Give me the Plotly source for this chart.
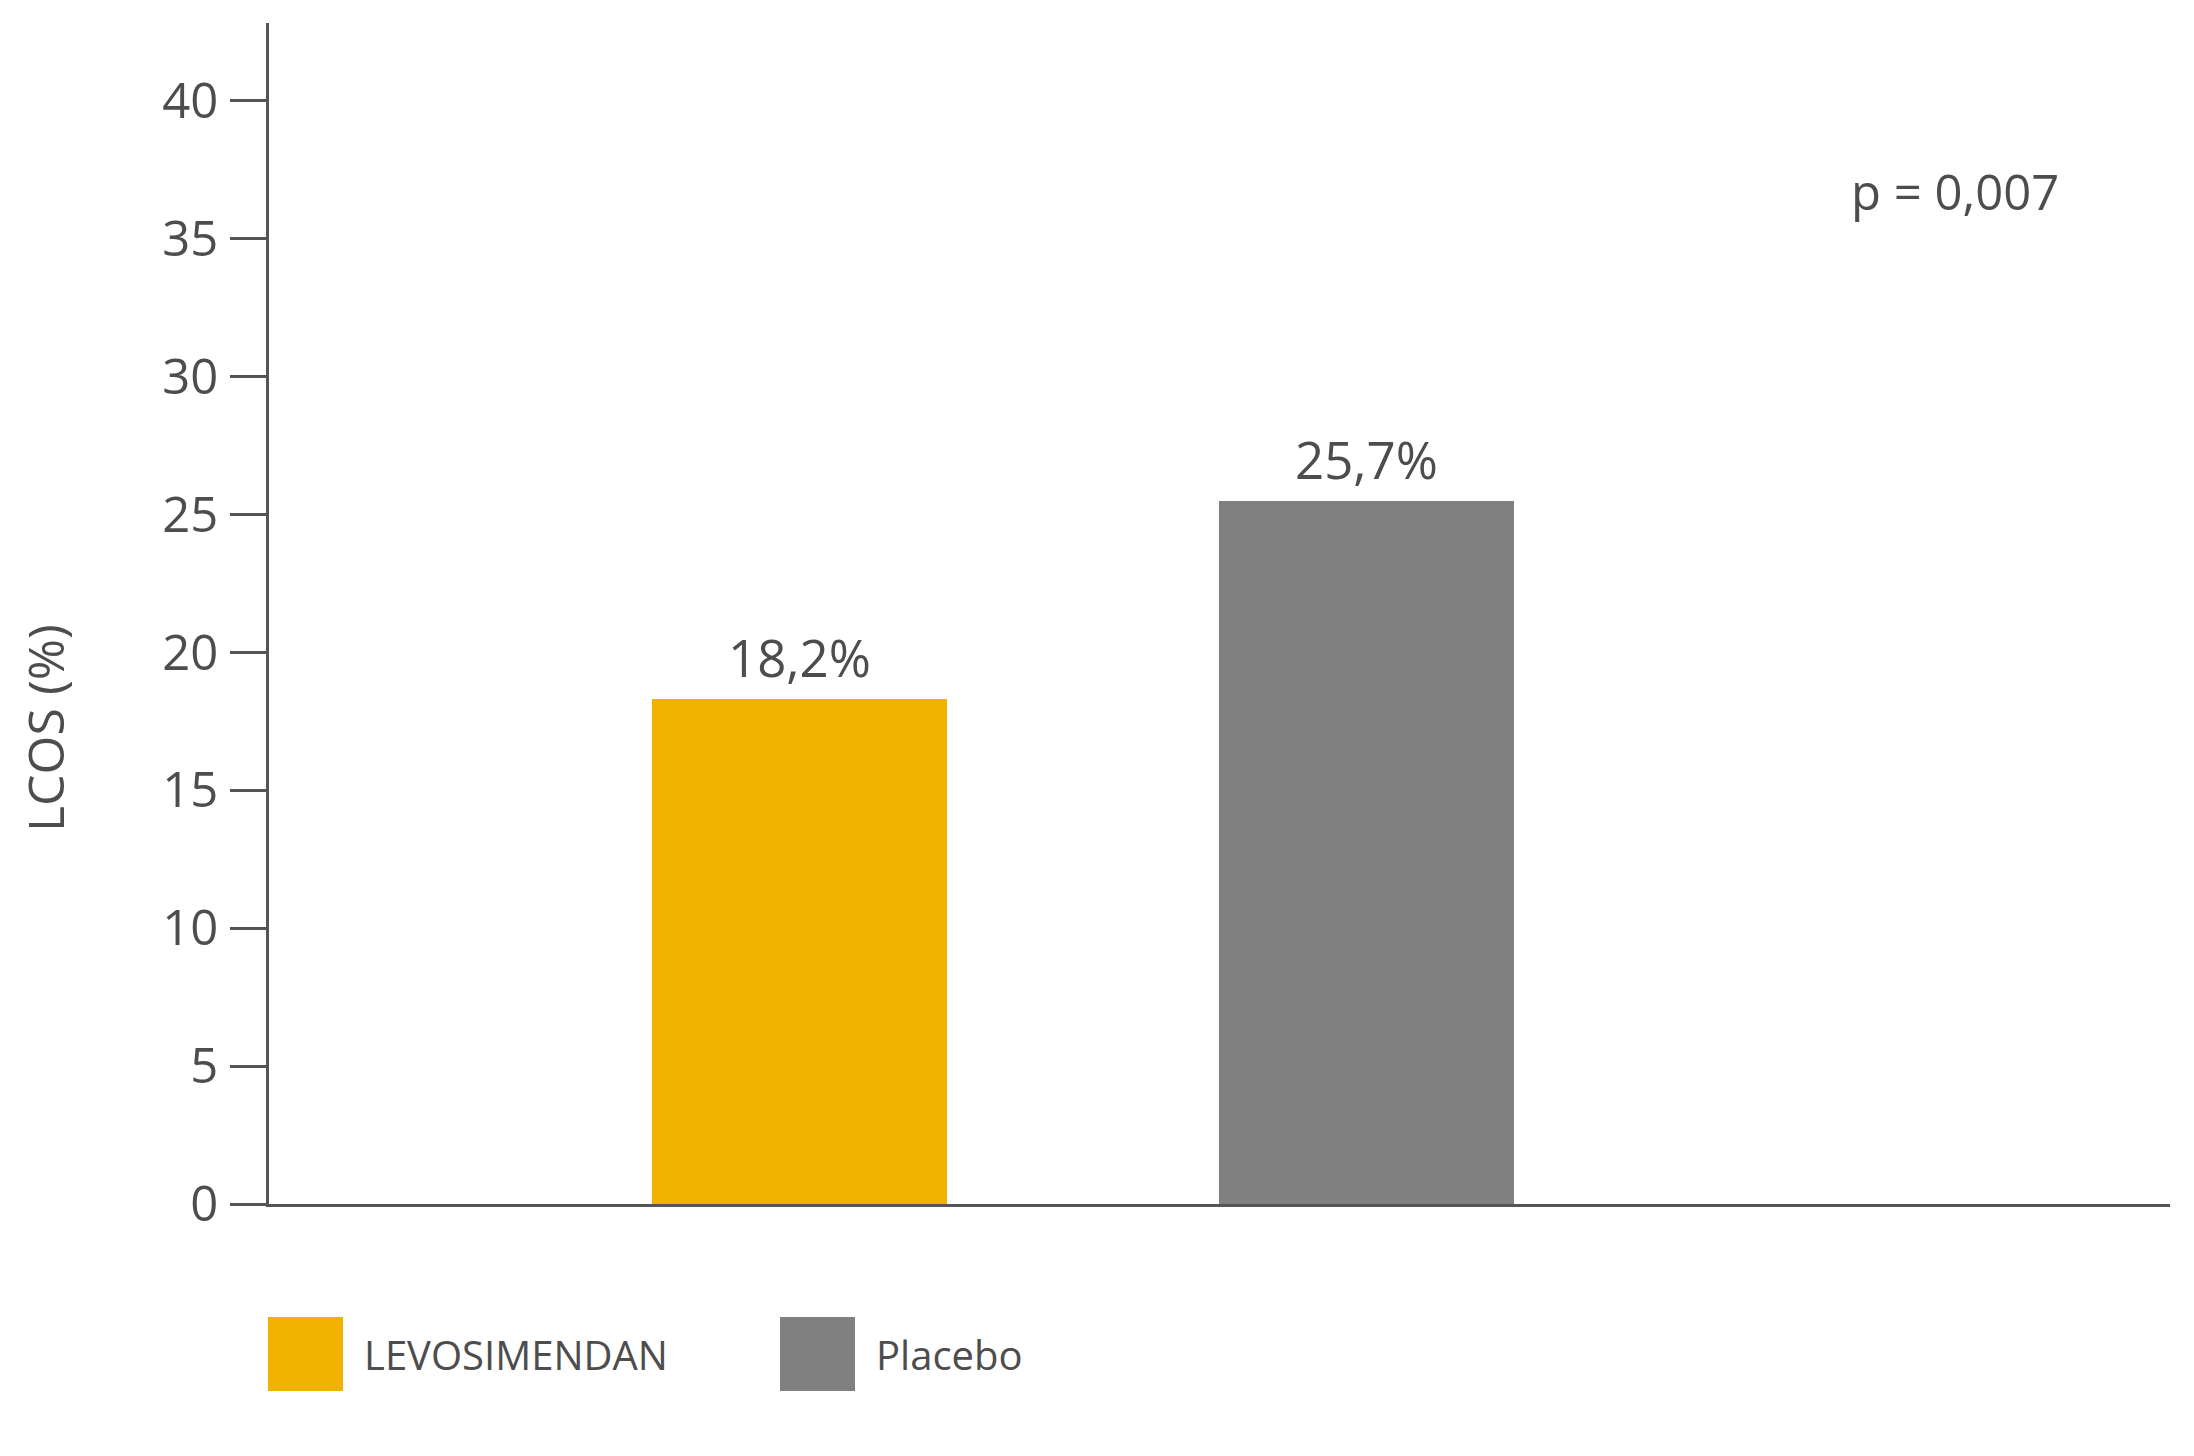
import plotly.graph_objects as go

# Data
categories = ["LEVOSIMENDAN", "Placebo"]
lcos_values = [18.3, 25.5]
value_labels = ["18,2%", "25,7%"]
bar_colors = ["#F0B100", "#808080"]
y_ticks = [0, 5, 10, 15, 20, 25, 30, 35, 40]
p_text = "p = 0,007"
y_title = "LCOS (%)"

OFF = 8  # default page body margin
W, H = 2194 - OFF, 1456 - OFF
plot_left, plot_right, plot_top, plot_bottom = 269, 2170, 23, 1204
L = plot_left - OFF
T = plot_top - OFF
plot_w = plot_right - plot_left
plot_h = plot_bottom - plot_top
R = W - L - plot_w
B = H - T - plot_h

def px_x(px):
    return (px - plot_left) / plot_w

def px_y(py):
    return (plot_bottom - py) / plot_h

FONT = "Open Sans"
TXT = "#4d4d4d"
AX = "#555555"

fig = go.Figure()
fig.add_trace(go.Bar(
    x=categories, y=lcos_values,
    marker=dict(color=bar_colors, line=dict(width=0)),
    width=0.52, showlegend=False, hoverinfo="skip",
))

annotations = []
for c, v, t in zip(categories, lcos_values, value_labels):
    annotations.append(dict(
        x=c, y=v, xref="x", yref="y", text=t, showarrow=False,
        yanchor="bottom", yshift=5,
        font=dict(family=FONT, size=51, color=TXT),
    ))

annotations.append(dict(
    x=px_x(1955), y=px_y(191), xref="paper", yref="paper", text=p_text,
    showarrow=False, xanchor="center", yanchor="middle",
    font=dict(family=FONT, size=49, color=TXT),
))
annotations.append(dict(
    x=px_x(45), y=px_y(728), xref="paper", yref="paper", text=y_title,
    showarrow=False, xanchor="center", yanchor="middle", textangle=-90,
    font=dict(family=FONT, size=50, color=TXT),
))

# Manual legend
shapes = []
legend_sq_x = [268, 780]
legend_txt_x = [362, 874]
for name, col, sx, tx in zip(categories, bar_colors, legend_sq_x, legend_txt_x):
    shapes.append(dict(
        type="rect", xref="paper", yref="paper",
        x0=px_x(sx), x1=px_x(sx + 75), y0=px_y(1391), y1=px_y(1317),
        fillcolor=col, line=dict(width=0),
    ))
    annotations.append(dict(
        x=px_x(tx), y=px_y(1354), xref="paper", yref="paper", text=name,
        showarrow=False, xanchor="left", yanchor="middle",
        font=dict(family=FONT, size=40, color=TXT),
    ))

fig.update_layout(
    width=W, height=H,
    margin=dict(l=L, r=R, t=T, b=B, pad=0),
    paper_bgcolor="white", plot_bgcolor="white",
    annotations=annotations, shapes=shapes,
    xaxis=dict(
        range=[-0.936, 2.418], showticklabels=False, ticks="",
        showline=True, linecolor=AX, linewidth=3, showgrid=False, zeroline=False,
    ),
    yaxis=dict(
        range=[0, 42.82], tickvals=y_ticks, ticktext=[str(v) for v in y_ticks],
        ticks="outside", ticklen=36, tickwidth=3, tickcolor=AX,
        showline=True, linecolor=AX, linewidth=3, showgrid=False, zeroline=False,
        tickfont=dict(family=FONT, size=49, color=TXT),
        ticklabelstandoff=2,
    ),
    bargap=0,
)

fig.write_html("out.html")
